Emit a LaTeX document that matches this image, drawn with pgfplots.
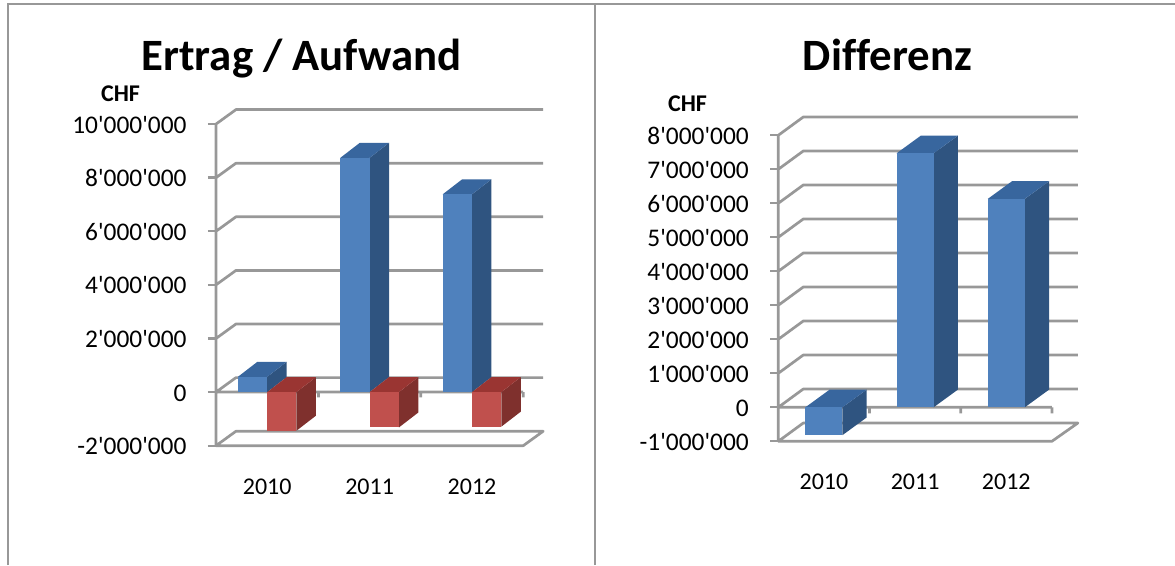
\documentclass[border=0pt]{standalone}
\usepackage{pgfplots}
\pgfplotsset{compat=1.18}
\usepackage{fontspec}
\setmainfont{Carlito}[Ligatures={TeXOff,NoCommon}]
\definecolor{gl}{HTML}{989898}
\definecolor{bf}{HTML}{4F81BD}
\definecolor{bt}{HTML}{38669E}
\definecolor{bs}{HTML}{2F5480}
\definecolor{rf}{HTML}{C0504D}
\definecolor{rt}{HTML}{9A3532}
\definecolor{rs}{HTML}{7F302D}
\newcommand\lab{\fontsize{24}{28}\selectfont}
\newcommand\laby{\fontsize{25.4}{28}\selectfont}
% #1 x0, #2 x1, #3 low, #4 high, #5 dx, #6 dy, #7 front, #8 top, #9 side
\newcommand\barthreed[9]{%
 \pgfmathsetmacro\xe{#2+#5}\pgfmathsetmacro\xb{#1+#5}%
 \pgfmathsetmacro\lb{#3+#6}\pgfmathsetmacro\hb{#4+#6}%
 \addplot[fill=#9,draw=none,forget plot] coordinates {(#2,#3)(\xe,\lb)(\xe,\hb)(#2,#4)} --cycle;
 \addplot[fill=#8,draw=none,forget plot] coordinates {(#1,#4)(#2,#4)(\xe,\hb)(\xb,\hb)} --cycle;
 \addplot[fill=#7,draw=none,forget plot] coordinates {(#1,#3)(#2,#3)(#2,#4)(#1,#4)} --cycle;
}
\pgfplotsset{chart3d/.style={
  scale only axis, clip=false,
  axis line style={draw=none},
  tick align=outside, xtick pos=bottom, ytick pos=left,
  major tick length=8pt,
  y tick style={gl,line width=2.4pt},
  x tick style={draw=none},
  xtick={0,1,2}, xticklabels={2010,2011,2012},
  xticklabel style={font=\lab},
  yticklabel style={font=\laby,xshift=-18pt,text height=11pt,text depth=0pt,yshift=-3.5pt},
  scaled ticks=false,
  grid=none,
}}
\begin{document}
\begin{tikzpicture}[x=1pt,y=1pt]
\path[use as bounding box] (0,0) rectangle (1175,565);
\draw[gl,line width=2.8pt] (8,0) -- (8,561) -- (1175,561);
\draw[gl,line width=2.8pt] (595,0) -- (595,561);
\node[font=\fontsize{44.8}{50}\selectfont\bfseries,anchor=base] at (301.5,494) {Ertrag / Aufwand};
\node[font=\fontsize{44.8}{50}\selectfont\bfseries,anchor=base] at (887.5,494) {Differenz};
\node[font=\lab\bfseries] at (120.5,471) {CHF};
\node[font=\lab\bfseries] at (687.5,461) {CHF};

\begin{axis}[chart3d,
  at={(216pt,119.3pt)}, anchor=south west,
  width=327.2pt, height=336.1pt,
  xmin=-0.5, xmax=2.695, ymin=-2, ymax=10.54,
  ytick={-2,0,2,4,6,8,10},
  yticklabels={-2'000'000,0,2'000'000,4'000'000,6'000'000,8'000'000,10'000'000},
  xticklabel style={yshift=-22pt},
]
% back wall, side and floor lines
\addplot[gl,line width=2.7pt,forget plot,line join=round] table {
-0.5 10
-0.305 10.54
2.695 10.54

-0.5 8
-0.305 8.54
2.695 8.54

-0.5 6
-0.305 6.54
2.695 6.54

-0.5 4
-0.305 4.54
2.695 4.54

-0.5 2
-0.305 2.54
2.695 2.54

-0.5 0
-0.305 0.54
2.695 0.54

-0.5 -2
-0.305 -1.46
2.695 -1.46
2.5 -2
-0.5 -2
-0.5 10

-0.5 0
2.5 0

0.5 0
0.5 -0.2

1.5 0
1.5 -0.2

2.5 0
2.5 -0.2
};
\barthreed{-0.286}{0}{0}{0.57}{0.19}{0.56}{bf}{bt}{bs}
\barthreed{0}{0.286}{-1.44}{0}{0.19}{0.56}{rf}{rt}{rs}
\barthreed{0.714}{1}{0}{8.74}{0.19}{0.56}{bf}{bt}{bs}
\barthreed{1}{1.286}{-1.32}{0}{0.19}{0.56}{rf}{rt}{rs}
\barthreed{1.714}{2}{0}{7.38}{0.19}{0.56}{bf}{bt}{bs}
\barthreed{2}{2.286}{-1.29}{0}{0.19}{0.56}{rf}{rt}{rs}
\end{axis}

\begin{axis}[chart3d,
  at={(778.3pt,123.7pt)}, anchor=south west,
  width=299.6pt, height=324.3pt,
  xmin=-0.5, xmax=2.785, ymin=-1, ymax=8.538,
  ytick={-1,0,1,2,3,4,5,6,7,8},
  yticklabels={-1'000'000,0,1'000'000,2'000'000,3'000'000,4'000'000,5'000'000,6'000'000,7'000'000,8'000'000},
  xticklabel style={yshift=-21pt},
]
\addplot[gl,line width=2.7pt,forget plot,line join=round] table {
-0.5 8
-0.226 8.538
2.785 8.538

-0.5 7
-0.226 7.538
2.785 7.538

-0.5 6
-0.226 6.538
2.785 6.538

-0.5 5
-0.226 5.538
2.785 5.538

-0.5 4
-0.226 4.538
2.785 4.538

-0.5 3
-0.226 3.538
2.785 3.538

-0.5 2
-0.226 2.538
2.785 2.538

-0.5 1
-0.226 1.538
2.785 1.538

-0.5 0
-0.226 0.538
2.785 0.538

-0.5 -1
-0.226 -0.462
2.785 -0.462
2.5 -1
-0.5 -1
-0.5 8

-0.5 0
2.5 0

0.5 0
0.5 -0.18

1.5 0
1.5 -0.18

2.5 0
2.5 -0.18
};
\barthreed{-0.203}{0.203}{-0.82}{0}{0.266}{0.52}{bf}{bt}{bs}
\barthreed{0.797}{1.203}{0}{7.47}{0.266}{0.52}{bf}{bt}{bs}
\barthreed{1.797}{2.203}{0}{6.13}{0.266}{0.52}{bf}{bt}{bs}
\end{axis}
\end{tikzpicture}
\end{document}
